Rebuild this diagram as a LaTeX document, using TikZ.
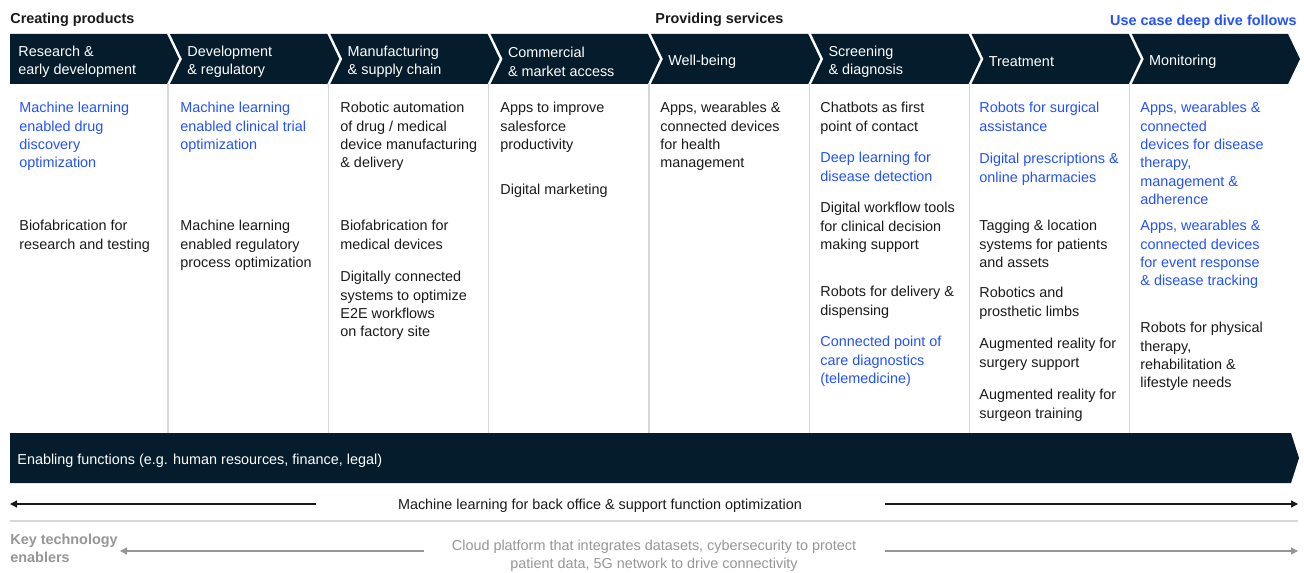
\documentclass[tikz,border=0pt]{standalone}
\usepackage{fontspec}
\setmainfont{Liberation Sans}
\usepackage{xcolor}
\definecolor{McNavy}{RGB}{5,28,44}
\definecolor{McBlue}{RGB}{34,81,255}
\definecolor{McInk}{RGB}{26,26,26}
\definecolor{McGrey}{RGB}{150,150,150}
\definecolor{RuleGrey}{RGB}{215,215,215}
\usepackage{tikz}
\usetikzlibrary{math,arrows.meta}
\newcommand*{\bodysize}{\fontsize{7.2}{9.15}\selectfont}
\tikzset{%
  pixels/.style={x={(0.5pt,0pt)},y={(0pt,-0.5pt)}},
  band/.style={fill=McNavy},
  col rule/.style={draw=RuleGrey, line width=0.6pt},
  head/.style={anchor=west, inner sep=0pt, align=left, text=white, font=\bodysize},
  item/.style={anchor=north west, inner sep=0pt, align=left, text=McInk, font=\bodysize},
  item blue/.style={item, text=McBlue},
  title/.style={inner sep=0pt, text=McInk, font=\bodysize\bfseries},
  flow/.style={-{Triangle[length=3.5pt,width=3.5pt]}, line width=0.65pt, draw=McInk},
  flow grey/.style={flow, draw=McGrey, fill=McGrey}
}

\begin{document}
\begin{tikzpicture}[pixels]
    \tikzmath{
      \xa=168;   % first column border
      \cw=160.3; % column width
      \ct=34;    % chevron top
      \cm=59;    % chevron tip
      \cb=84;    % chevron bottom
      \cd=12;    % chevron depth
      \hy=62;    % header text line
    }
    \useasboundingbox (0,0) rectangle (1304,572);
    % titles
    \node[title, anchor=west] (create) at (10,20) {Creating products};
    \node[title, anchor=west] (provide) at (655,20) {Providing services};
    \node[title, anchor=east, text=McBlue] (deepdive) at (1297,22) {Use case deep dive follows};
    % chevron band
    \fill[band] (10,\ct) -- ({\xa-1},\ct) -- ({\xa-1+\cd},\cm) -- ({\xa-1},\cb) -- (10,\cb) -- cycle;
    \foreach \k in {2,...,7} {
      \tikzmath{\L=\xa+(\k-2)*\cw+2; \R=\xa+(\k-1)*\cw-1;}
      \fill[band] (\L,\ct) -- (\R,\ct) -- ({\R+\cd},\cm) -- (\R,\cb) -- (\L,\cb) -- ({\L+\cd},\cm) -- cycle;
    }
    \tikzmath{\L=\xa+6*\cw+2;}
    \fill[band] (\L,\ct) -- (1288,\ct) -- (1300,\cm) -- (1288,\cb) -- (\L,\cb) -- ({\L+\cd},\cm) -- cycle;
    % column rules
    \foreach \k in {0,...,6} {
      \draw[col rule] ({\xa+\k*\cw},\cb) -- ({\xa+\k*\cw},433);
    }
    % stage headers
    \node[head] (hd1) at (18,\hy) {Research \&\\early development};
    \foreach \k/\t in {2/{Development\\\& regulatory}, 3/{Manufacturing\\\& supply chain},
                      4/{Commercial\\\& market access}, 5/{Well-being},
                      6/{Screening\\\& diagnosis}, 7/{Treatment}, 8/{Monitoring}} {
      \node[head] (hd\k) at ({\xa+(\k-2)*\cw+19},\hy) {\t};
    }
    % research & early development
    \node[item blue] (c1a) at (19,102) {Machine learning\\enabled drug\\discovery\\optimization};
    \node[item] (c1b) at (19,220) {Biofabrication for\\research and testing};
    % development & regulatory
    \node[item blue] (c2a) at (180,102) {Machine learning\\enabled clinical trial\\optimization};
    \node[item] (c2b) at (180,220) {Machine learning\\enabled regulatory\\process optimization};
    % manufacturing & supply chain
    \node[item] (c3a) at (340,102) {Robotic automation\\of drug / medical\\device manufacturing\\\& delivery};
    \node[item] (c3b) at (340,220) {Biofabrication for\\medical devices};
    \node[item] (c3c) at (340,271) {Digitally connected\\systems to optimize\\E2E workflows\\on factory site};
    % commercial & market access
    \node[item] (c4a) at (500,102) {Apps to improve\\salesforce\\productivity};
    \node[item] (c4b) at (500,184) {Digital marketing};
    % well-being
    \node[item] (c5a) at (660,102) {Apps, wearables \&\\connected devices\\for health\\management};
    % screening & diagnosis
    \node[item] (c6a) at (820,102) {Chatbots as first\\point of contact};
    \node[item blue] (c6b) at (820,152) {Deep learning for\\disease detection};
    \node[item] (c6c) at (820,202) {Digital workflow tools\\for clinical decision\\making support};
    \node[item] (c6d) at (820,286) {Robots for delivery \&\\dispensing};
    \node[item blue] (c6e) at (820,336) {Connected point of\\care diagnostics\\(telemedicine)};
    % treatment
    \node[item blue] (c7a) at (979,102) {Robots for surgical\\assistance};
    \node[item blue] (c7b) at (979,153) {Digital prescriptions \&\\online pharmacies};
    \node[item] (c7c) at (979,220) {Tagging \& location\\systems for patients\\and assets};
    \node[item] (c7d) at (979,287) {Robotics and\\prosthetic limbs};
    \node[item] (c7e) at (979,338) {Augmented reality for\\surgery support};
    \node[item] (c7f) at (979,389) {Augmented reality for\\surgeon training};
    % monitoring
    \node[item blue] (c8a) at (1140,102) {Apps, wearables \&\\connected\\devices for disease\\therapy,\\management \&\\adherence};
    \node[item blue] (c8b) at (1140,220) {Apps, wearables \&\\connected devices\\for event response\\\& disease tracking};
    \node[item] (c8c) at (1140,322) {Robots for physical\\therapy,\\rehabilitation \&\\lifestyle needs};
    % enabling functions band
    \fill[band] (10,433) -- (1291,433) -- (1299,458) -- (1291,483) -- (10,483) -- cycle;
    \node[head] (enable) at (17,461) {Enabling functions (e.g. human resources, finance, legal)};
    % back office row
    \node[item, anchor=center] (backoffice) at (600,506) {Machine learning for back office \& support function optimization};
    \coordinate (boL) at (316,504);
    \coordinate (boLend) at (10,504);
    \coordinate (boR) at (885,504);
    \coordinate (boRend) at (1298,504);
    \draw[flow] (boL) -- (boLend);
    \draw[flow] (boR) -- (boRend);
    \draw[col rule] (10,521) -- (1298,521);
    % key technology enablers
    \node[title, anchor=west, align=left, text=McGrey] (keytech) at (10,548) {Key technology\\enablers};
    \node[item, anchor=center, align=center, text=McGrey] (cloud) at (654,556) {Cloud platform that integrates datasets, cybersecurity to protect\\patient data, 5G network to drive connectivity};
    \coordinate (clL) at (424,551);
    \coordinate (clLend) at (120,551);
    \coordinate (clR) at (885,551);
    \coordinate (clRend) at (1298,551);
    \draw[flow grey] (clL) -- (clLend);
    \draw[flow grey] (clR) -- (clRend);
  \end{tikzpicture}
\end{document}
